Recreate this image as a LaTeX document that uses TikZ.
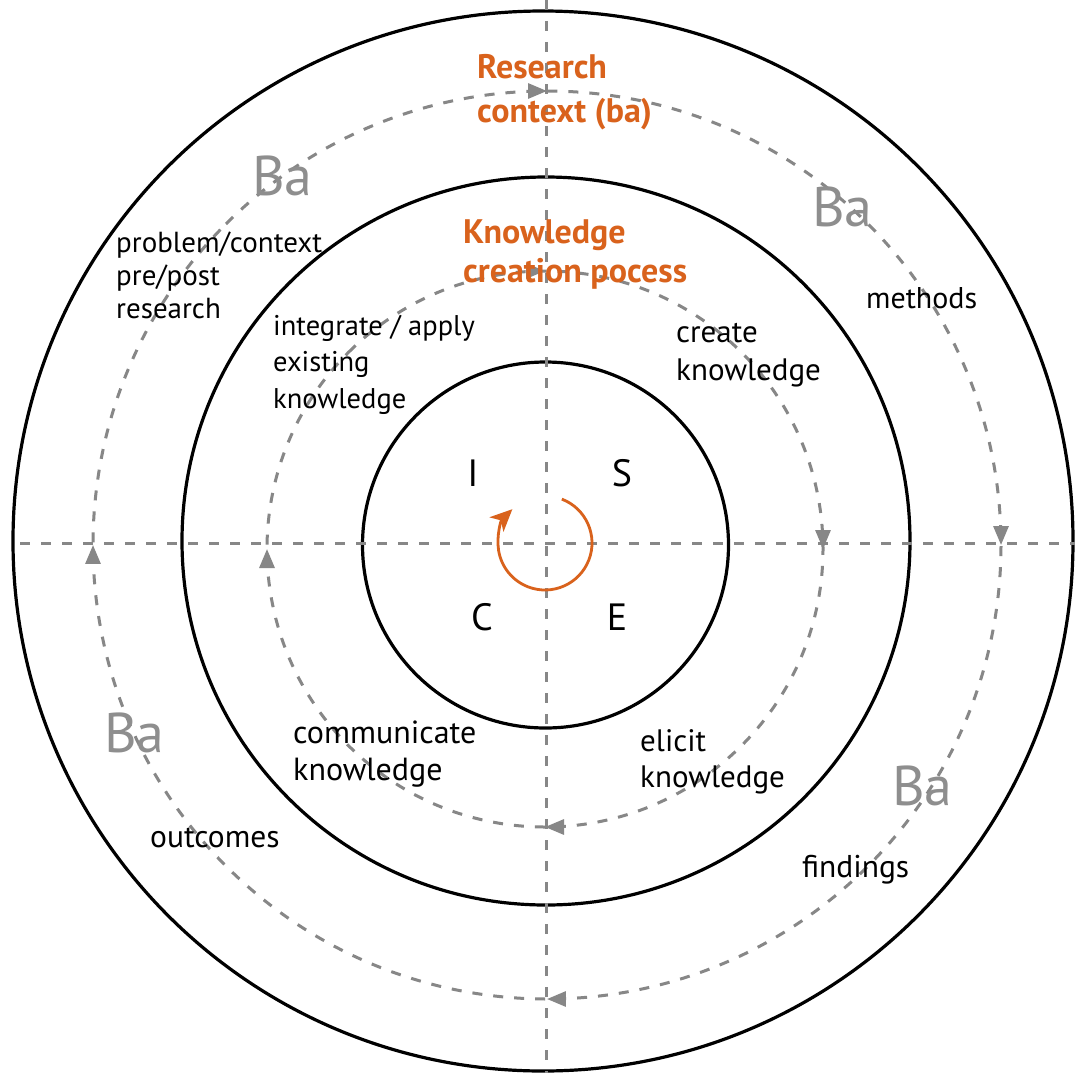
\documentclass[tikz,border=0pt]{standalone}
\usepackage{fontspec}
\setmainfont{PT Sans}
\usetikzlibrary{arrows.meta,decorations.markings}
\definecolor{orng}{HTML}{D9621C}
\definecolor{dgray}{HTML}{878787}
\definecolor{bagray}{HTML}{8E8E8E}
\begin{document}
\begin{tikzpicture}[x=1pt,y=-1pt,
  ring/.style={draw=black, line width=3.2pt},
  guide/.style={draw=dgray, line width=3pt, dash pattern=on 10pt off 11pt},
  flow/.style={guide, postaction={decorate}, decoration={markings,
     mark=at position 0.125 with {\arrow{Triangle[length=19pt,width=15pt]}},
     mark=at position 0.375 with {\arrow{Triangle[length=19pt,width=15pt]}},
     mark=at position 0.625 with {\arrow{Triangle[length=19pt,width=15pt]}},
     mark=at position 0.875 with {\arrow{Triangle[length=19pt,width=15pt]}}}},
  lbl/.style={anchor=base west, align=left, inner sep=0pt, font=\fontsize{30}{35}\selectfont},
  ba/.style={anchor=base west, inner sep=0pt, text=bagray, font=\fontsize{56}{60}\selectfont},
  ttl/.style={anchor=base west, align=left, inner sep=0pt, text=orng},
  letter/.style={inner sep=0pt, font=\fontsize{38}{40}\selectfont}]
\useasboundingbox (0,0) rectangle (1075,1073);
\fill[white] (0,0) rectangle (1075,1073);
% centres
\coordinate (c) at (546,543);
\coordinate (vt) at (546,0);
\coordinate (vb) at (546,1073);
\coordinate (hl) at (20,543);
\coordinate (hr) at (1075,543);
% solid rings
\draw[ring] (543,541) circle[radius=530];
\draw[ring] (546,541) circle[radius=364];
\draw[ring] (545.5,545) circle[radius=183];
% axes
\draw[guide] (vt) -- (vb);
\draw[guide] (hl) -- (hr);
% dashed flow circles (clockwise)
\path[flow] (547,545) ++(-135:454) arc[start angle=-135, end angle=225, radius=454];
\path[flow] (545,549) ++(-135:278) arc[start angle=-135, end angle=225, radius=278];
% orange loop
\draw[orng, line width=2.8pt, -{Stealth[length=22pt,width=20pt,inset=6pt]}]
  (545,543) ++(-69:47) arc[start angle=-69, end angle=226, radius=47];
% letters
\node[letter] (I) at (473,473) {I};
\node[letter] (S) at (622,473) {S};
\node[letter] (C) at (482,617) {C};
\node[letter] (E) at (617,617) {E};
% titles (anchor = baseline of last line)
\node[ttl, font=\fontsize{34}{44}\selectfont\bfseries] (rc) at (477,122) {Research\\context (ba)};
\node[ttl, font=\fontsize{34}{39}\selectfont\bfseries] (kc) at (463,282) {Knowledge\\creation pocess};
% Ba
\node[ba] (ba1) at (252,195) {Ba};
\node[ba] (ba2) at (812,226) {Ba};
\node[ba] (ba3) at (104,752) {Ba};
\node[ba] (ba4) at (892,805) {Ba};
% labels (anchor = baseline of last line)
\node[lbl, font=\fontsize{29}{33}\selectfont] (pc) at (116,318) {problem/context\\pre/post\\research};
\node[lbl] (me) at (866,308) {methods};
\node[lbl, font=\fontsize{28.5}{36.5}\selectfont] (ia) at (273,408) {integrate / apply\\existing\\knowledge};
\node[lbl, font=\fontsize{31}{38}\selectfont] (ck) at (676,380) {create\\knowledge};
\node[lbl, font=\fontsize{32}{37}\selectfont] (cm) at (293,780) {communicate\\knowledge};
\node[lbl, font=\fontsize{31}{36}\selectfont] (el) at (640,787) {elicit\\knowledge};
\node[lbl, font=\fontsize{31.5}{36}\selectfont] (oc) at (150,847) {outcomes};
\node[lbl, font=\fontsize{31.5}{36}\selectfont] (fi) at (802,877) {findings};
\end{tikzpicture}
\end{document}
